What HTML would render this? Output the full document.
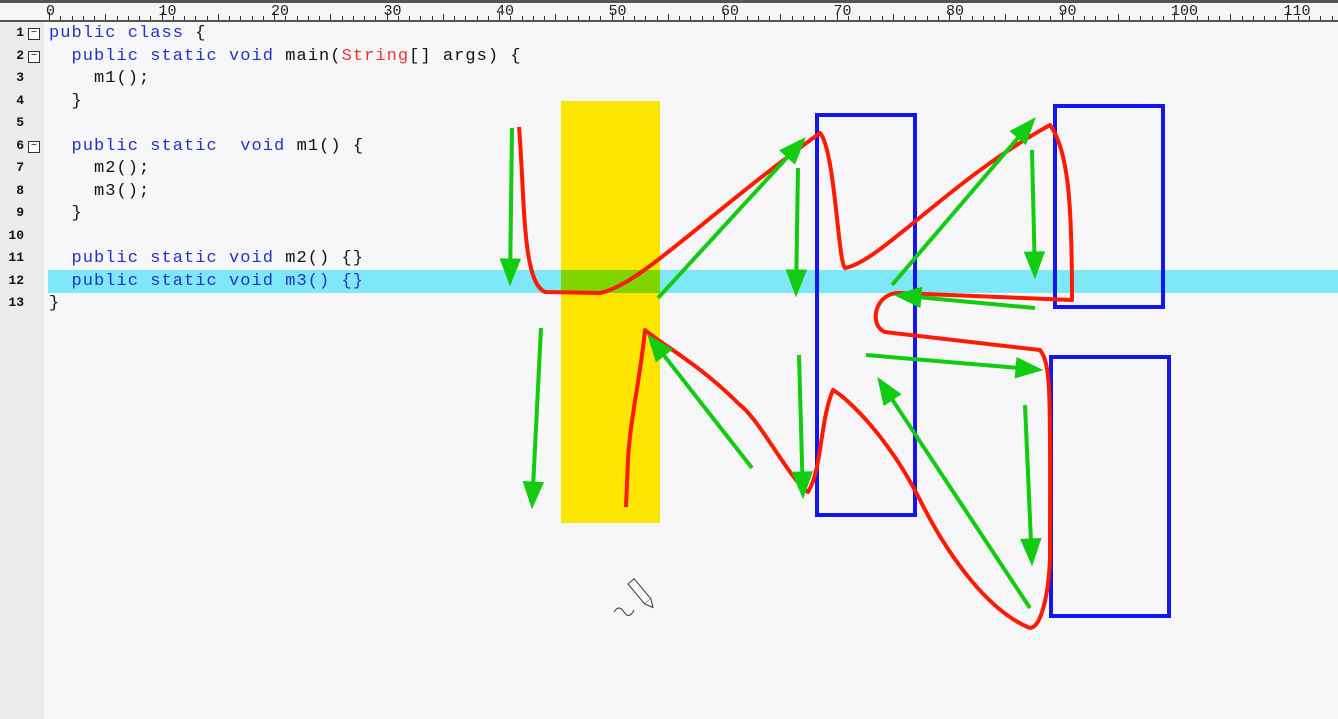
<!DOCTYPE html>
<html><head><meta charset="utf-8"><style>
body{margin:0;width:1338px;height:719px;overflow:hidden;background:#f7f7f9;font-family:"Liberation Mono",monospace;position:relative}
#ruler{position:absolute;left:0;top:0;width:1338px;height:22px;background:#f6f6f6;border-bottom:2px solid #555;border-top:3px solid #555;box-sizing:border-box}
.rn{position:absolute;top:0px;font-size:15px;color:#222}
.tick{position:absolute;bottom:0;width:1px;background:#333}
#gutter{position:absolute;left:0;top:22px;width:44px;height:697px;background:#ececee}
.ln{position:absolute;left:0;width:24px;text-align:right;font-size:13px;color:#111;font-weight:bold}
.fold{position:absolute;left:28px;width:10px;height:10px;border:1px solid #333;background:#fff;font-size:10px;line-height:9px;text-align:center}
.code{position:absolute;left:49px;font-size:17px;letter-spacing:1.05px;white-space:pre;color:#111;line-height:22px}
.k{color:#2233cc}.s{color:#e33}
#hl{position:absolute;left:48px;top:270px;width:1290px;height:23px;background:#7ee8f8}
svg{position:absolute;left:0;top:0}
</style></head><body>
<div id="ruler"></div>
<div id="gutter"></div>
<div id="hl"></div>
<div id="codearea"></div>
<svg width="1338" height="719">
<rect x="561" y="101" width="99" height="422" fill="#ffe600"/>
<rect x="561" y="270" width="99" height="23" fill="#80d400"/>
<g fill="none" stroke="#1515f0" stroke-width="4">
<rect x="817" y="115" width="98" height="400"/>
<rect x="1055" y="106" width="108" height="201"/>
<rect x="1051" y="357" width="118" height="259"/>
</g>
<path fill="none" stroke="#ff1a00" stroke-width="4" stroke-linejoin="round" d="M519,127 C525,200 522,282 545,292 L600,293 C640,285 700,220 820,133 C835,150 838,262 845,268 C880,262 950,180 1050,125 C1068,150 1072,200 1072,300 L900,293 C875,292 868,325 885,332 L1040,350 C1052,365 1050,400 1050,560 C1048,600 1040,628 1030,628 C990,612 950,560 920,500 C890,440 850,400 833,390 C820,420 822,470 808,492 C790,480 760,420 740,405 C700,365 670,350 645,330 C640,380 630,420 628,460 L626,507"/>
<g id="arrows" stroke="#11cc11" fill="#11cc11" stroke-width="4"></g>
<g transform="translate(628,584) rotate(-40)">
<rect x="0" y="0" width="8" height="26" fill="#fff" stroke="#333" stroke-width="1"/>
<path d="M0,26 L4,34 L8,26" fill="#fff" stroke="#333" stroke-width="1"/>
</g>
<path d="M614,612 q5,-8 10,0 q5,8 10,-2" fill="none" stroke="#333" stroke-width="1"/>
</svg>
<script>
const lines=[
['1',true,'<span class="k">public class</span> {'],
['2',true,'  <span class="k">public static void</span> main(<span class="s">String</span>[] args) {'],
['3',false,'    m1();'],
['4',false,'  }'],
['5',false,''],
['6',true,'  <span class="k">public static  void</span> m1() {'],
['7',false,'    m2();'],
['8',false,'    m3();'],
['9',false,'  }'],
['10',false,''],
['11',false,'  <span class="k">public static void</span> m2() {}'],
['12',false,'  <span class="k">public static void m3() {}</span>'],
['13',false,'}']];
const ca=document.getElementById('codearea'),gu=document.body;
lines.forEach((l,i)=>{const y=23+i*22.5;
const n=document.createElement('div');n.className='ln';n.style.top=(y+2)+'px';n.textContent=l[0];


gu.appendChild(n);
if(l[1]){const f=document.createElement('div');f.className='fold';f.style.top=(y+5)+'px';f.textContent='−';


gu.appendChild(f);}
const c=document.createElement('div');c.className='code';c.style.top=y+'px';c.innerHTML=l[2];


ca.appendChild(c);});
const r=document.getElementById('ruler');
for(let k=0;k<=114;k++){const x=49+k*11.25;const t=document.createElement('div');t.className='tick';t.style.left=x+'px';t.style.height=(k%10==0?8:k%5==0?6:4)+'px';


r.appendChild(t);
if(k%10==0){const n=document.createElement('div');n.className='rn';n.style.left=(x-3)+'px';n.textContent=k;


r.appendChild(n);}}
const arrowStarts=[[512,128],[541,328],[658,298],[798,168],[752,468],[799,355],[892,285],[1032,150],[1035,308],[866,355],[1025,405],[1030,608]];
const arrowEnds=[[510,285],[532,508],[805,138],[796,296],[648,335],[803,498],[1035,118],[1035,278],[895,295],[1042,370],[1032,565],[878,378]];
const g=document.getElementById('arrows'),NS='http://www.w3.org/2000/svg';
arrowStarts.forEach((s,i)=>{const e=arrowEnds[i];const dx=e[0]-s[0],dy=e[1]-s[1],L=Math.hypot(dx,dy),ux=dx/L,uy=dy/L;
const bx=e[0]-ux*26,by=e[1]-uy*26;
const ln=document.createElementNS(NS,'line');ln.setAttribute('x1',s[0]);ln.setAttribute('y1',s[1]);ln.setAttribute('x2',bx);ln.setAttribute('y2',by);


g.appendChild(ln);
const p=document.createElementNS(NS,'polygon');
p.setAttribute('points',`${e[0]},${e[1]} ${bx-uy*10},${by+ux*10} ${bx+uy*10},${by-ux*10}`);p.setAttribute('stroke-width','1');


g.appendChild(p);});
</script>
</body></html>
